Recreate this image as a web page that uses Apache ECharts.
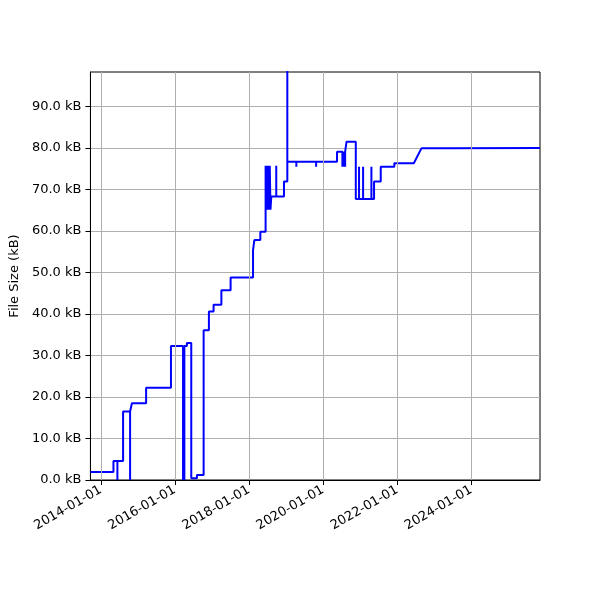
<!DOCTYPE html>
<html>
<head>
<meta charset="utf-8" />
<script src="https://cdn.jsdelivr.net/npm/echarts@6/dist/echarts.min.js"></script>
<style>
  html, body { margin: 0; padding: 0; background: #fff; }
  #main { width: 600px; height: 600px; }
</style>
</head>
<body>
<div id="main"></div>
<script>
// points, in draw order (pairs give the vertical steps)
var dates = [
  '2013-09-21', '2014-05-06', '2014-05-06', '2014-06-14', '2014-06-14', '2014-06-14',
  '2014-08-09', '2014-08-09', '2014-10-17', '2014-10-17', '2014-10-17', '2014-11-04',
  '2014-11-04', '2015-03-24', '2015-03-24', '2015-11-24', '2015-11-24', '2016-03-22',
  '2016-03-22', '2016-03-22', '2016-04-04', '2016-04-04', '2016-04-04', '2016-04-29',
  '2016-04-29', '2016-06-11', '2016-06-11', '2016-08-06', '2016-08-06', '2016-10-11',
  '2016-10-11', '2016-12-02', '2016-12-02', '2017-01-17', '2017-01-17', '2017-04-04',
  '2017-04-04', '2017-07-04', '2017-07-04', '2018-02-10', '2018-02-10', '2018-02-23',
  '2018-02-23', '2018-04-23', '2018-04-23', '2018-06-14', '2018-06-14', '2018-06-20',
  '2018-06-20', '2018-06-27', '2018-06-27', '2018-07-04', '2018-07-04', '2018-07-11',
  '2018-07-11', '2018-07-18', '2018-07-18', '2018-07-25', '2018-07-25', '2018-08-01',
  '2018-08-01', '2018-08-09', '2018-08-09', '2018-09-27', '2018-09-27', '2018-09-27',
  '2018-12-12', '2018-12-12', '2019-01-14', '2019-01-14', '2019-01-14', '2019-04-13',
  '2019-04-13', '2019-04-13', '2019-10-25', '2019-10-25', '2019-10-25', '2020-05-18',
  '2020-05-18', '2020-07-10', '2020-07-10', '2020-07-10', '2020-07-24', '2020-07-24',
  '2020-07-24', '2020-08-06', '2020-08-06', '2020-08-06', '2020-08-20', '2020-08-20',
  '2020-11-19', '2020-11-19', '2020-12-21', '2020-12-21', '2020-12-21', '2021-01-30',
  '2021-01-30', '2021-01-30', '2021-04-22', '2021-04-22', '2021-04-22', '2021-05-18',
  '2021-05-18', '2021-07-23', '2021-07-23', '2021-12-04', '2021-12-04', '2022-06-14',
  '2022-08-28', '2023-06-01', '2023-06-01', '2025-11-09'
];
var sizes = [
  1.9, 1.9, 4.6, 4.6, 0, 4.6,
  4.6, 16.5, 16.5, 0, 16.5, 16.5,
  18.5, 18.5, 22.2, 22.2, 32.3, 32.3,
  0, 32.3, 32.3, 0, 32.3, 32.3,
  33.0, 33.0, 0.4, 0.4, 1.2, 1.2,
  36.1, 36.1, 40.6, 40.6, 42.2, 42.2,
  45.7, 45.7, 48.8, 48.8, 55.4, 55.4,
  57.8, 57.8, 59.8, 59.8, 75.7, 75.7,
  65.1, 65.1, 75.7, 75.7, 65.1, 65.1,
  75.7, 75.7, 65.1, 65.1, 75.7, 75.7,
  65.1, 65.1, 68.3, 68.3, 75.7, 68.3,
  68.3, 71.9, 71.9, 120, 76.7, 76.7,
  75.5, 76.7, 76.7, 75.5, 76.7, 76.7,
  79.1, 79.1, 75.5, 79.1, 79.1, 75.5,
  79.1, 79.1, 75.5, 79.1, 79.1, 81.5,
  81.5, 67.7, 67.7, 75.5, 67.7, 67.7,
  75.5, 67.7, 67.7, 75.5, 67.7, 67.7,
  71.9, 71.9, 75.5, 75.5, 76.3, 76.3,
  79.9, 79.9, 80.0, 80.0
];

var xTickLabels = ['2014-01-01', '2016-01-01', '2018-01-01', '2020-01-01', '2022-01-01', '2024-01-01'];
var yTicks = [0, 10, 20, 30, 40, 50, 60, 70, 80, 90];
var xMin = '2013-09-21', xMax = '2025-11-09';
var yMax = 98.3;

function toTime(s) {
  var p = s.split('-');
  return Date.UTC(+p[0], +p[1] - 1, +p[2]);
}
function fmtDate(v) {
  var d = new Date(v);
  var m = d.getUTCMonth() + 1, dd = d.getUTCDate();
  return d.getUTCFullYear() + '-' + (m < 10 ? '0' : '') + m + '-' + (dd < 10 ? '0' : '') + dd;
}

var points = [];
for (var i = 0; i < dates.length; i++) {
  points.push([toTime(dates[i]), sizes[i]]);
}
var xTickValues = xTickLabels.map(toTime);

var chart = echarts.init(document.getElementById('main'));
chart.setOption({
  animation: false,
  textStyle: { fontFamily: 'DejaVu Sans' },
  grid: {
    left: 90, right: 60, top: 72, bottom: 120,
    show: true, borderColor: '#000', borderWidth: 1, containLabel: false
  },
  xAxis: {
    type: 'value',
    min: toTime(xMin),
    max: toTime(xMax),
    axisLine: { show: true, lineStyle: { color: '#000', width: 1 } },
    axisTick: { show: true, inside: false, length: 5, customValues: xTickValues, lineStyle: { color: '#000' } },
    axisLabel: {
      customValues: xTickValues,
      rotate: 30,
      margin: 9,
      fontSize: 13,
      color: '#000',
      formatter: fmtDate
    },
    splitLine: { show: false }
  },
  yAxis: {
    type: 'value',
    min: 0,
    max: yMax,
    interval: 10,
    name: 'File Size (kB)',
    nameLocation: 'middle',
    nameGap: 67,
    nameRotate: 90,
    nameTextStyle: { fontSize: 13, color: '#000' },
    axisLine: { show: true, lineStyle: { color: '#000', width: 1 } },
    axisTick: { show: true, inside: false, length: 5, customValues: yTicks, lineStyle: { color: '#000' } },
    axisLabel: {
      customValues: yTicks,
      margin: 9,
      fontSize: 13,
      color: '#000',
      formatter: function (v) { return v.toFixed(1) + ' kB'; }
    },
    splitLine: { show: true, lineStyle: { color: '#b0b0b0', width: 1 } }
  },
  series: [
    {
      // vertical grid lines at the date ticks
      type: 'line',
      data: [],
      z: 1,
      silent: true,
      markLine: {
        silent: true,
        symbol: 'none',
        label: { show: false },
        lineStyle: { color: '#b0b0b0', width: 1, type: 'solid' },
        data: xTickValues.map(function (t) { return { xAxis: t }; })
      }
    },
    {
      name: 'File Size',
      type: 'line',
      data: points,
      z: 3,
      showSymbol: false,
      clip: true,
      lineStyle: { color: '#0000ff', width: 2 },
      itemStyle: { color: '#0000ff' }
    }
  ]
});
</script>
</body>
</html>
